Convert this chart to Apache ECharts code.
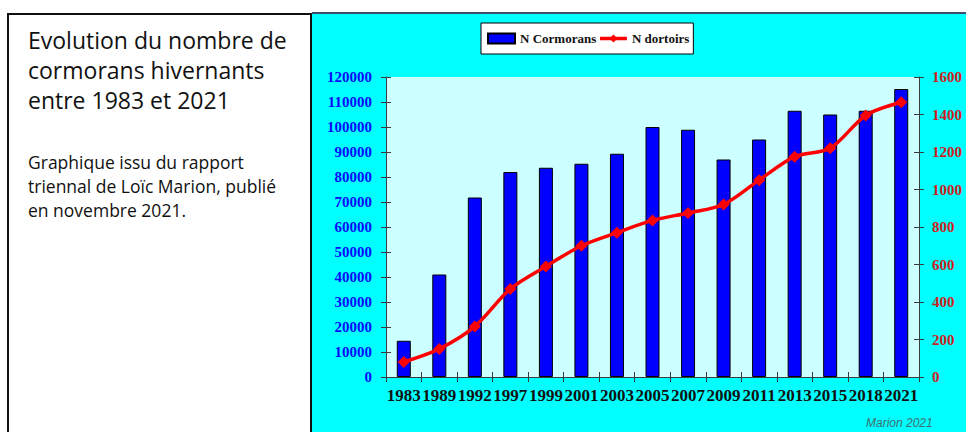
<!DOCTYPE html>
<html>
<head>
<meta charset="utf-8">
<script src="https://cdn.jsdelivr.net/npm/echarts@6/dist/echarts.min.js"></script>
<style>
  html, body { margin: 0; padding: 0; background: #fff; width: 966px; height: 432px; overflow: hidden; }
  #note { position: absolute; left: 7px; top: 13px; width: 305px; height: 440px; box-sizing: border-box;
          border: 2px solid #111; border-bottom: none; background: #fff; }
  #title { position: absolute; left: 28px; top: 25px; font-family: "Open Sans", sans-serif; font-size: 23px;
           line-height: 30px; color: #111; white-space: nowrap; }
  #sub { position: absolute; left: 28px; top: 150px; font-family: "Open Sans", sans-serif; font-size: 17.5px;
         line-height: 24px; color: #111; white-space: nowrap; }
  #chart { position: absolute; left: 312px; top: 13px; width: 654px; height: 419px; }
  #topline { position: absolute; left: 312px; top: 12px; width: 654px; height: 2px; background: #3d4f6e; z-index: 5; }
</style>
</head>
<body>
<div id="note"></div>
<div id="title">Evolution du nombre de<br>cormorans hivernants<br>entre 1983 et 2021</div>
<div id="sub">Graphique issu du rapport<br>triennal de Loïc Marion, publié<br>en novembre 2021.</div>
<div id="chart"></div>
<div id="topline"></div>
<script>
// Winter counts: number of cormorants and number of roosts per census year
const years = ['1983', '1989', '1992', '1997', '1999', '2001', '2003', '2005', '2007', '2009', '2011', '2013', '2015', '2018', '2021'];
const cormorans = [14500, 41000, 71800, 82000, 83700, 85300, 89300, 100000, 98900, 87000, 95000, 106500, 105000, 106500, 115200];
const dortoirs = [80, 150, 270, 470, 590, 700, 770, 835, 875, 920, 1050, 1175, 1220, 1395, 1465];

const leftAxis = { min: 0, max: 120000, step: 10000 };
const rightAxis = { min: 0, max: 1600, step: 200 };

const serif = 'Liberation Serif';
const axisColor = '#3a3a3a';
const plain = v => String(v);

const chart = echarts.init(document.getElementById('chart'), null, { renderer: 'svg' });

// Each axis is doubled so its ticks cross the axis line (outside + inside)
function yAxes(pos, scale, labelColor, margin) {
  const base = {
    type: 'value', position: pos, min: scale.min, max: scale.max, interval: scale.step,
    splitLine: { show: false }
  };
  return [
    Object.assign({}, base, {
      axisLine: { show: true, lineStyle: { color: axisColor, width: 1 } },
      axisTick: { show: true, inside: false, length: 5, lineStyle: { color: axisColor } },
      axisLabel: { color: labelColor, fontFamily: serif, fontWeight: 'bold', fontSize: 15, margin: margin, formatter: plain }
    }),
    Object.assign({}, base, {
      axisLine: { show: false },
      axisTick: { show: true, inside: true, length: 5, lineStyle: { color: axisColor } },
      axisLabel: { show: false }
    })
  ];
}

const [yLeft, yLeftIn] = yAxes('left', leftAxis, '#0a0aff', 14);
const [yRight, yRightIn] = yAxes('right', rightAxis, '#d01c1c', 13);

chart.setOption({
  animation: false,
  backgroundColor: '#00ffff',
  grid: {
    left: 74, right: 47, top: 64, bottom: 55,
    show: true, backgroundColor: '#ccffff', borderWidth: 0
  },
  legend: {
    data: [
      { name: 'N Cormorans', icon: 'rect' },
      { name: 'N dortoirs' }
    ],
    left: 169, top: 10,
    backgroundColor: '#ffffff', borderColor: '#000000', borderWidth: 1,
    padding: [9, 4, 9, 6],
    itemWidth: 27, itemHeight: 10, itemGap: 2,
    lineStyle: { width: 3.5 },
    textStyle: { fontFamily: serif, fontWeight: 'bold', fontSize: 13, color: '#111' }
  },
  xAxis: [
    {
      type: 'category', data: years, position: 'bottom', boundaryGap: true,
      axisLine: { show: true, lineStyle: { color: axisColor, width: 1 } },
      axisTick: { show: true, inside: false, length: 5, lineStyle: { color: axisColor } },
      axisLabel: { interval: 0, fontFamily: serif, fontWeight: 'bold', fontSize: 17, color: '#111', margin: 10 }
    },
    {
      type: 'category', data: years, position: 'bottom', boundaryGap: true,
      axisLine: { show: false },
      axisTick: { show: true, inside: true, length: 5, lineStyle: { color: axisColor } },
      axisLabel: { show: false }
    }
  ],
  yAxis: [yLeft, yRight, yLeftIn, yRightIn],
  series: [
    {
      name: 'N Cormorans', type: 'bar', xAxisIndex: 0, yAxisIndex: 0,
      data: cormorans, barWidth: 14,
      itemStyle: { color: '#0000ff', borderColor: '#000000', borderWidth: 1 }
    },
    {
      name: 'N dortoirs', type: 'line', xAxisIndex: 0, yAxisIndex: 1,
      data: dortoirs, smooth: 0.3, z: 5,
      symbol: 'diamond', symbolSize: 12,
      lineStyle: { color: '#ff0000', width: 3.5 },
      itemStyle: { color: '#ff0000' }
    }
  ],
  graphic: [
    {
      type: 'text', left: 554, top: 404,
      style: { text: 'Marion 2021', font: 'italic 12px "Liberation Sans"', fill: '#3f6f6f' }
    }
  ]
});
</script>
</body>
</html>
